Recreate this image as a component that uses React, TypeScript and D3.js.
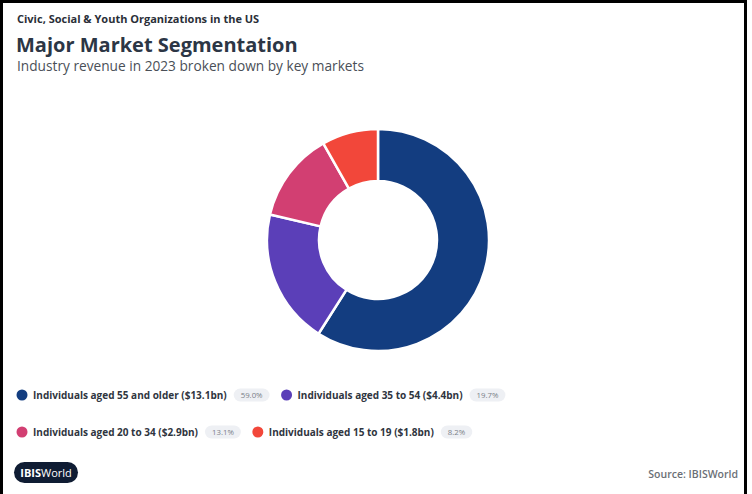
import React, { useEffect, useRef } from "react";
import * as d3 from "d3";

const categories = [
  "Individuals aged 55 and older",
  "Individuals aged 35 to 54",
  "Individuals aged 20 to 34",
  "Individuals aged 15 to 19",
];
const revenueLabels = ["$13.1bn", "$4.4bn", "$2.9bn", "$1.8bn"];
const shares = [59.0, 19.7, 13.1, 8.2];
const colors = ["#133d80", "#5b3fb8", "#d23f72", "#f2473a"];

const W = 752;
const H = 494;

export default function App() {
  const ref = useRef<SVGSVGElement | null>(null);

  useEffect(() => {
    const svg = d3.select(ref.current);
    svg.selectAll("*").remove();
    const font = "'Open Sans', sans-serif";

    svg.append("rect").attr("width", W).attr("height", H).attr("fill", "#fff");
    // frame (left, top, right)
    svg.append("path")
      .attr("d", `M1.5,${H} L1.5,1.5 L${W - 6.5},1.5 L${W - 6.5},${H}`)
      .attr("fill", "none").attr("stroke", "#000").attr("stroke-width", 3);

    svg.append("text").attr("x", 17).attr("y", 23).attr("font-family", font)
      .attr("font-size", 11).attr("font-weight", 700).attr("fill", "#2a2f38")
      .text("Civic, Social & Youth Organizations in the US");
    svg.append("text").attr("x", 16).attr("y", 52).attr("font-family", font)
      .attr("font-size", 20).attr("font-weight", 700).attr("fill", "#2c3645")
      .text("Major Market Segmentation");
    svg.append("text").attr("x", 17).attr("y", 71).attr("font-family", font)
      .attr("font-size", 13.7).attr("fill", "#4a4f57")
      .text("Industry revenue in 2023 broken down by key markets");

    // donut
    const pie = d3.pie<number>().sort(null).value((d) => d);
    const arc = d3.arc<d3.PieArcDatum<number>>().innerRadius(59).outerRadius(111);
    const g = svg.append("g").attr("transform", "translate(378,240)");
    g.selectAll("path").data(pie(shares)).join("path")
      .attr("d", arc as any)
      .attr("fill", (_d, i) => colors[i])
      .attr("stroke", "#fff").attr("stroke-width", 2.5).attr("stroke-linejoin", "round");

    // legend
    const rows = [[0, 1], [2, 3]];
    const rowY = [395, 432];
    rows.forEach((row, r) => {
      let x = 22;
      row.forEach((i) => {
        const y = rowY[r];
        svg.append("circle").attr("cx", x).attr("cy", y).attr("r", 5.5).attr("fill", colors[i]);
        const t = svg.append("text").attr("x", x + 11).attr("y", y + 4)
          .attr("font-family", font).attr("font-size", 10).attr("font-weight", 700)
          .attr("fill", "#2f3540")
          .text(`${categories[i]} (${revenueLabels[i]})`);
        const tw = (t.node() as SVGTextElement).getComputedTextLength();
        const px = x + 11 + tw + 7;
        const pt = svg.append("text").attr("x", 0).attr("y", y + 3)
          .attr("font-family", font).attr("font-size", 7.8).attr("fill", "#7a7f88")
          .text(`${shares[i].toFixed(1)}%`);
        const pw = (pt.node() as SVGTextElement).getComputedTextLength() + 14;
        svg.insert("rect", "text:last-child").attr("x", px).attr("y", y - 6.5).attr("width", pw)
          .attr("height", 13).attr("rx", 6.5).attr("fill", "#eef0f4");
        pt.raise().attr("x", px + 7);
        x = px + pw + 17;
      });
    });

    // logo
    svg.append("rect").attr("x", 14).attr("y", 462).attr("width", 64).attr("height", 21)
      .attr("rx", 10.5).attr("fill", "#0f1c33");
    const lt = svg.append("text").attr("x", 46).attr("y", 476.5).attr("text-anchor", "middle")
      .attr("font-family", font).attr("font-size", 11).attr("fill", "#fff");
    lt.append("tspan").attr("font-weight", 700).text("IBIS");
    lt.append("tspan").attr("font-weight", 400).text("World");

    svg.append("text").attr("x", 738).attr("y", 478).attr("text-anchor", "end")
      .attr("font-family", font).attr("font-size", 10.5).attr("font-weight", 600)
      .attr("fill", "#6b6f76").text("Source: IBISWorld");
  }, []);

  return (
    <svg ref={ref} width={W} height={H}
      style={{ position: "absolute", left: 0, top: 0, display: "block" }} />
  );
}
